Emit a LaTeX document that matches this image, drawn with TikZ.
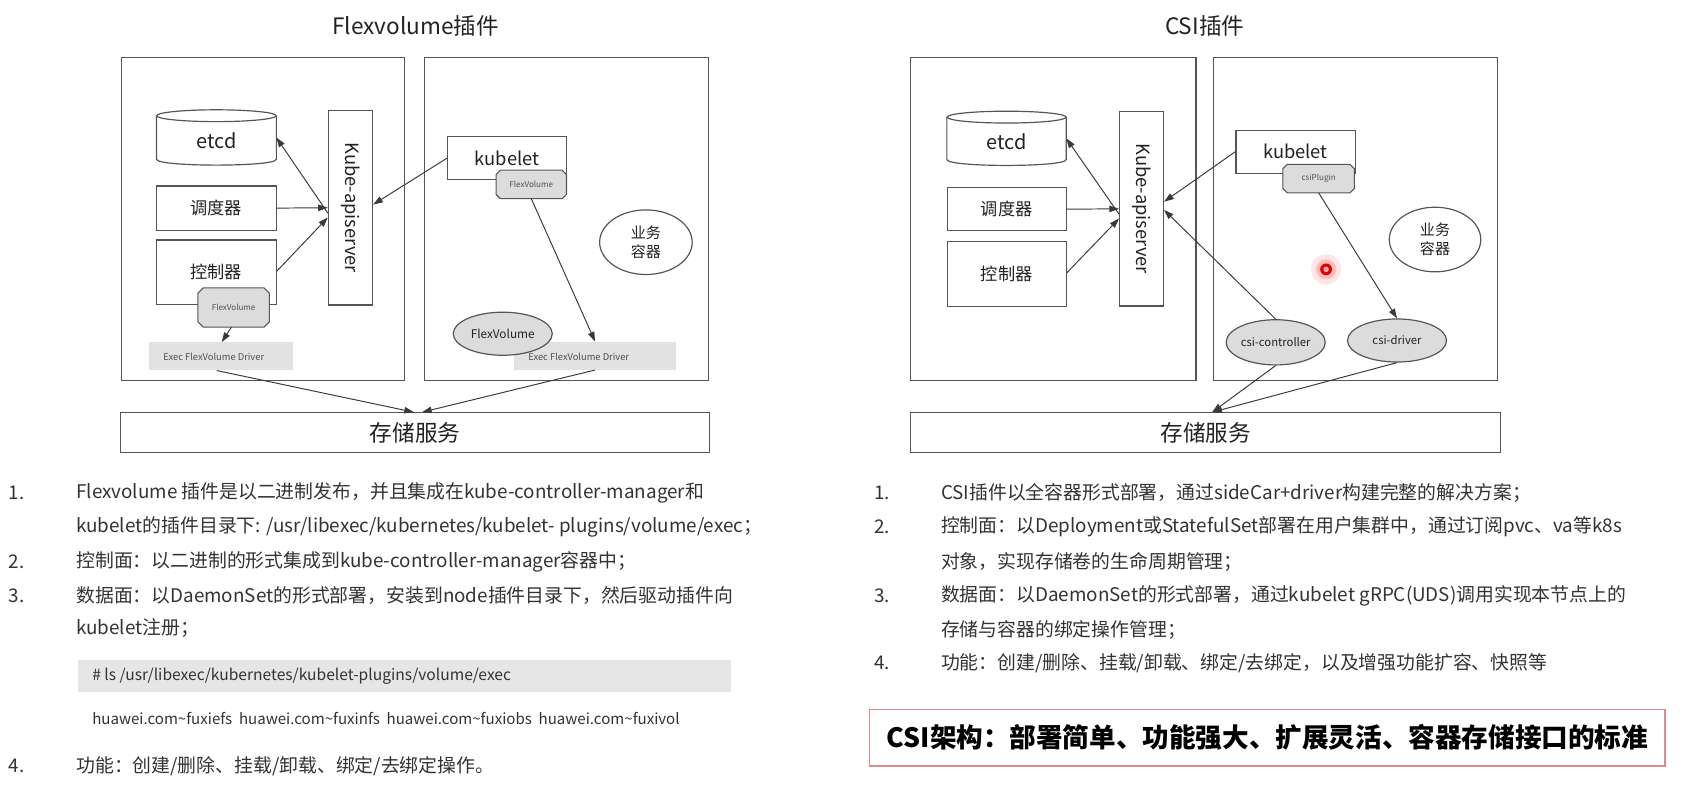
\documentclass[tikz,border=0pt]{standalone}
\usepackage{fontspec}
\setmainfont{Noto Sans CJK SC}
\usetikzlibrary{arrows.meta,calc,shapes.geometric}
\definecolor{ln}{HTML}{3A3A3A}
\definecolor{bx}{HTML}{555555}
\definecolor{gfill}{HTML}{DCDCDC}
\definecolor{exfill}{HTML}{E2E2E2}
\definecolor{codebg}{HTML}{E6E6E6}
\definecolor{txt}{HTML}{222222}
\definecolor{txtb}{HTML}{333333}
\definecolor{smalltxt}{HTML}{505050}
\definecolor{redbox}{HTML}{D98A8A}
\newcommand{\fsz}[1]{\fontsize{#1}{#1}\selectfont}
\begin{document}
\begin{tikzpicture}[x=1pt,y=-1pt,
  frame/.style={draw=bx, line width=1.2pt, inner sep=0pt},
  box/.style={draw=bx, line width=1.1pt, fill=white, inner sep=0pt, font=\fsz{16}, text=txt},
  ghost/.style={draw=none, inner sep=0pt},
  octo/.style={draw=none, inner sep=0pt, font=\fsz{7.5}, text=smalltxt},
  octline/.style={draw=bx, line width=1pt, fill=gfill},
  gell/.style={ellipse, draw=bx, line width=1.1pt, fill=gfill, inner sep=0pt, text=txt},
  well/.style={ellipse, draw=bx, line width=1.1pt, fill=white, inner sep=0pt, text=txt, align=center, font=\fontsize{14}{18}\selectfont},
  exbox/.style={fill=exfill, draw=none, inner sep=0pt, minimum height=26pt},
  extxt/.style={anchor=west, inner sep=0pt, font=\fsz{8.7}, text=smalltxt},
  store/.style={draw=bx, line width=1.2pt, inner sep=0pt, minimum width=547pt, minimum height=37pt, font=\fsz{21}, text=txt},
  ttl/.style={inner sep=0pt, font=\fsz{21}, text=txt},
  arr/.style={draw=ln, line width=0.9pt, -{Triangle[length=9pt,width=6pt]}},
  lt/.style={anchor=west, inner sep=0pt, font=\fsz{17.5}, text=txtb},
  ct/.style={anchor=west, inner sep=0pt, font=\fsz{14}, text=txtb}
]
\fill[white] (0,0) rectangle (1568,741);
\useasboundingbox (0,0) rectangle (1568,741);

% ================= Flexvolume =================
\node[ttl] (ft) at (386,24) {Flexvolume插件};
\node[frame, minimum width=263pt, minimum height=300pt] (fm) at (244.5,203.5) {};
\node[frame, minimum width=264pt, minimum height=300pt] (fn) at (526,203.5) {};
\node[store] (fs) at (385.5,402) {存储服务};

% etcd cylinder
\node[ghost, minimum width=111pt, minimum height=51pt] (etcd1) at (201,127.7) {};
\draw[bx, line width=1.1pt, fill=white] ($(etcd1.north west)+(0,5.5)$) -- ($(etcd1.south west)+(0,-5.5)$)
  .. controls ($(etcd1.south west)+(0,1.8)$) and ($(etcd1.south east)+(0,1.8)$) .. ($(etcd1.south east)+(0,-5.5)$)
  -- ($(etcd1.north east)+(0,5.5)$);
\draw[bx, line width=1.1pt, fill=white] ($(etcd1.north)+(0,5.5)$) ellipse [x radius=55.5, y radius=5.5];
\node[inner sep=0pt, font=\fsz{18.5}, text=txt] at ($(etcd1.center)+(0,3)$) {etcd};

\node[box, minimum width=111pt, minimum height=41pt] (sch1) at (201,193.3) {调度器};
\node[box, minimum width=111pt, minimum height=60pt] (ctl1) at (201,253) {控制器};
\node[octo, minimum width=66pt, minimum height=36pt] (oct1) at (217,285.6) {};
\draw[octline] ($(oct1.north west)+(5,0)$) -- ($(oct1.north east)+(-5,0)$) -- ($(oct1.north east)+(0,5)$)
  -- ($(oct1.south east)+(0,-5)$) -- ($(oct1.south east)+(-5,0)$) -- ($(oct1.south west)+(5,0)$)
  -- ($(oct1.south west)+(0,-5)$) -- ($(oct1.north west)+(0,5)$) -- cycle;
\node[octo] at (oct1) {FlexVolume};
\node[exbox, minimum width=133pt] (ex1) at (205.3,331) {};
\node[extxt] at ($(ex1.west)+(13,0)$) {Exec FlexVolume Driver};

\node[box, minimum width=41pt, minimum height=180.5pt] (apis1) at (325.6,193) {};
\node[inner sep=0pt, font=\fsz{17}, text=txt, rotate=-90] at (apis1) {Kube-apiserver};

\node[box, minimum width=110pt, minimum height=40pt, font=\fsz{17}] (kub1) at (471,146.8) {kubelet};
\node[octo, minimum width=65pt, minimum height=26pt] (oct1b) at (493.5,171.3) {};
\draw[octline] ($(oct1b.north west)+(4,0)$) -- ($(oct1b.north east)+(-4,0)$) -- ($(oct1b.north east)+(0,4)$)
  -- ($(oct1b.south east)+(0,-4)$) -- ($(oct1b.south east)+(-4,0)$) -- ($(oct1b.south west)+(4,0)$)
  -- ($(oct1b.south west)+(0,-4)$) -- ($(oct1b.north west)+(0,4)$) -- cycle;
\node[octo] at (oct1b) {FlexVolume};

\node[well, minimum width=86pt, minimum height=60pt] (yw1) at (600,225) {业务\\容器};
\node[exbox, minimum width=150pt] (ex1b) at (552.8,330.5) {};
\node[extxt] at ($(ex1b.west)+(13,1)$) {Exec FlexVolume Driver};
\node[gell, minimum width=92pt, minimum height=40pt, font=\fsz{11}] (fve) at (467,310) {FlexVolume};

% arrows
\draw[arr] ($(apis1.west)+(0,5)$) -- (etcd1.east);
\draw[arr] (sch1.east) -- (apis1.west);
\draw[arr] ($(ctl1.east)+(0,-1)$) -- ($(apis1.west)+(0,9)$);
\draw[arr] (kub1.west) -- ($(apis1.east)+(0,-3)$);
\draw[arr] (oct1b.south) -- (ex1b.north);
\draw[arr] ($(oct1.south)+(-2,0)$) -- ($(ex1.north)+(0.7,0)$);
\draw[arr] ($(ex1.south)+(-4,0)$) -- ($(fs.north)+(-1,0)$);
\draw[arr] (ex1b.south) -- ($(fs.north)+(6.5,0)$);

% ================= CSI =================
\node[ttl] (ct) at (1119,24) {CSI插件};
\node[frame, minimum width=265pt, minimum height=300pt] (cm) at (978.5,203.5) {};
\node[frame, minimum width=264pt, minimum height=300pt] (cn) at (1259,203.5) {};
\node[store, minimum width=548pt] (cs) at (1120,402) {存储服务};

\node[ghost, minimum width=110.5pt, minimum height=50pt] (etcd2) at (935,128.5) {};
\draw[bx, line width=1.1pt, fill=white] ($(etcd2.north west)+(0,5.5)$) -- ($(etcd2.south west)+(0,-5.5)$)
  .. controls ($(etcd2.south west)+(0,1.8)$) and ($(etcd2.south east)+(0,1.8)$) .. ($(etcd2.south east)+(0,-5.5)$)
  -- ($(etcd2.north east)+(0,5.5)$);
\draw[bx, line width=1.1pt, fill=white] ($(etcd2.north)+(0,5.5)$) ellipse [x radius=55.25, y radius=5.5];
\node[inner sep=0pt, font=\fsz{18.5}, text=txt] at ($(etcd2.center)+(0,3)$) {etcd};

\node[box, minimum width=110.5pt, minimum height=40pt] (sch2) at (935.2,194.3) {调度器};
\node[box, minimum width=110.5pt, minimum height=60pt] (ctl2) at (935.2,254.4) {控制器};
\node[box, minimum width=40.7pt, minimum height=180.6pt] (apis2) at (1060.4,194) {};
\node[inner sep=0pt, font=\fsz{17}, text=txt, rotate=-90] at (apis2) {Kube-apiserver};

\node[box, minimum width=110.7pt, minimum height=40pt, font=\fsz{17}] (kub2) at (1203.4,140.9) {kubelet};
\node[octo, minimum width=66pt, minimum height=26pt] (oct2) at (1224.9,165.9) {};
\draw[octline] ($(oct2.north west)+(4,0)$) -- ($(oct2.north east)+(-4,0)$) -- ($(oct2.north east)+(0,4)$)
  -- ($(oct2.south east)+(0,-4)$) -- ($(oct2.south east)+(-4,0)$) -- ($(oct2.south west)+(4,0)$)
  -- ($(oct2.south west)+(0,-4)$) -- ($(oct2.north west)+(0,4)$) -- cycle;
\node[octo] at (oct2) {csiPlugin};

\node[well, minimum width=85pt, minimum height=60pt] (yw2) at (1333,222.5) {业务\\容器};
\node[gell, minimum width=92pt, minimum height=42pt, font=\fsz{10.5}] (ce) at (1185,318) {csi-controller};
\node[gell, minimum width=92pt, minimum height=40pt, font=\fsz{10.5}] (de) at (1297.7,316.3) {csi-driver};

% laser pointer dot
\fill[red!10] (1231.8,250.2) circle (14);
\fill[red!25] (1231.8,250.2) circle (9.5);
\fill[red!90!black] (1231.8,250.2) circle (5.5);
\fill[red!35] (1231.8,250.2) circle (2.6);

\draw[arr] ($(apis2.west)+(0,5)$) -- (etcd2.east);
\draw[arr] (sch2.east) -- (apis2.west);
\draw[arr] ($(ctl2.east)+(0,-1)$) -- ($(apis2.west)+(0,9)$);
\draw[arr] (kub2.west) -- ($(apis2.east)+(0,-6.6)$);
\draw[arr] (ce.north) -- ($(apis2.east)+(0,1)$);
\draw[arr] (oct2.south) -- (de.north);
\draw[arr] (ce.south) -- ($(cs.north)+(6,0)$);
\draw[arr] (de.south) -- ($(cs.north)+(6,0)$);

% ================= Left text =================
\node[lt] (l1n) at (8,458.3) {1.};
\node[lt] (l1a) at (70.7,458.3) {Flexvolume 插件是以二进制发布，并且集成在kube-controller-manager和};
\node[lt] (l1b) at (70.7,489.3) {kubelet的插件目录下: /usr/libexec/kubernetes/kubelet- plugins/volume/exec；};
\node[lt] (l2n) at (8,521.8) {2.};
\node[lt] (l2a) at (70.7,521.8) {控制面：以二进制的形式集成到kube-controller-manager容器中；};
\node[lt] (l3n) at (8,553.6) {3.};
\node[lt] (l3a) at (70.7,553.6) {数据面：以DaemonSet的形式部署，安装到node插件目录下，然后驱动插件向};
\node[lt] (l3b) at (70.7,583.7) {kubelet注册；};
\node[fill=codebg, inner sep=0pt, minimum width=607pt, minimum height=29.5pt, anchor=north west] (code) at (72,613) {};
\node[ct, font=\fsz{14.5}] (codet) at (85.5,627.8) {\# ls /usr/libexec/kubernetes/kubelet-plugins/volume/exec};
\node[ct] (hw) at (85.5,667.3) {huawei.com\char`~fuxiefs\ \ huawei.com\char`~fuxinfs\ \ huawei.com\char`~fuxiobs\ \ huawei.com\char`~fuxivol};
\node[lt] (l4n) at (8,711.6) {4.};
\node[lt] (l4a) at (70.7,711.6) {功能：创建/删除、挂载/卸载、绑定/去绑定操作。};

% ================= Right text =================
\node[lt] (r1n) at (812,458.3) {1.};
\node[lt] (r1a) at (874,458.3) {CSI插件以全容器形式部署，通过sideCar+driver构建完整的解决方案；};
\node[lt] (r2n) at (812,489.3) {2.};
\node[lt] (r2a) at (874,489.3) {控制面：以Deployment或StatefulSet部署在用户集群中，通过订阅pvc、va等k8s};
\node[lt] (r2b) at (874,521.8) {对象，实现存储卷的生命周期管理；};
\node[lt] (r3n) at (812,553.6) {3.};
\node[lt] (r3a) at (874,553.6) {数据面：以DaemonSet的形式部署，通过kubelet gRPC(UDS)调用实现本节点上的};
\node[lt] (r3b) at (874,585.2) {存储与容器的绑定操作管理；};
\node[lt] (r4n) at (812,616.2) {4.};
\node[lt] (r4a) at (874,616.2) {功能：创建/删除、挂载/卸载、绑定/去绑定，以及增强功能扩容、快照等};

\node[draw=redbox, line width=1.3pt, fill=white, inner sep=0pt, minimum width=738.7pt, minimum height=52.6pt,
  font=\bfseries\fsz{24.7}, text=black] (sum) at (1177.3,685.3) {CSI架构：部署简单、功能强大、扩展灵活、容器存储接口的标准};
\end{tikzpicture}
\end{document}
